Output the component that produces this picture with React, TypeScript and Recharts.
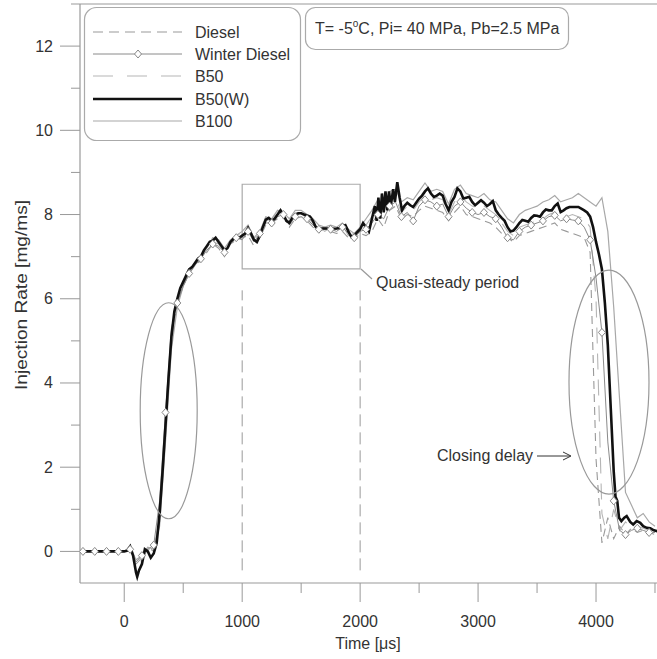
import React from 'react';
import { LineChart, Line, XAxis, YAxis, ReferenceLine, ReferenceArea, ReferenceDot } from 'recharts';

const FONT = '"Liberation Sans", Arial, Helvetica, sans-serif';
const TEXT = '#333';
const AXIS = '#999';

// Common time grid (µs) for the gray series
const GRID_TIME = [
  -375, -350, -300, -250, -200, -150, -100, -50, 0, 50,
  100, 150, 200, 250, 300, 350, 400, 450, 500, 550,
  600, 650, 700, 750, 800, 850, 900, 950, 1000, 1050,
  1100, 1150, 1200, 1250, 1300, 1350, 1400, 1450, 1500, 1550,
  1600, 1650, 1700, 1750, 1800, 1850, 1900, 1950, 2000, 2050,
  2100, 2150, 2200, 2250, 2300, 2350, 2400, 2450, 2500, 2550,
  2600, 2650, 2700, 2750, 2800, 2850, 2900, 2950, 3000, 3050,
  3100, 3150, 3200, 3250, 3300, 3350, 3400, 3450, 3500, 3550,
  3600, 3650, 3700, 3750, 3800, 3850, 3900, 3950, 4000, 4050,
  4100, 4150, 4200, 4250, 4300, 4350, 4400, 4450, 4500,
];

const DIESEL = [
  0, 0, 0, 0, 0, 0, 0, 0, 0, 0.05,
  -0.3, -0.15, 0.1, 0.0, 0.7, 2.8, 5.0, 5.9, 6.3, 6.6,
  6.8, 6.9, 7.1, 7.3, 7.2, 7.0, 7.3, 7.4, 7.45, 7.5,
  7.25, 7.45, 7.75, 7.8, 7.9, 7.95, 7.7, 7.9, 7.95, 7.85,
  7.7, 7.6, 7.65, 7.6, 7.55, 7.6, 7.45, 7.4, 7.55, 7.5,
  7.6, 7.9, 7.7, 8.1, 8.2, 7.9, 8.0, 7.95, 8.1, 8.2,
  8.15, 8.1, 8.05, 7.85, 8.05, 8.2, 8.0, 7.95, 7.9, 7.85,
  7.8, 7.7, 7.55, 7.45, 7.35, 7.5, 7.55, 7.6, 7.65, 7.7,
  7.75, 7.8, 7.65, 7.6, 7.55, 7.5, 7.45, 7.1, 2.2, 0.2,
  0.8, 0.3, 0.6, 0.4, 0.55, 0.45, 0.5, 0.45, 0.4,
];

const WINTER_DIESEL = [
  0, 0, 0, 0, 0, 0, 0, 0, 0, 0.05,
  -0.25, -0.1, 0.05, 0.15, 1.2, 3.3, 5.3, 5.9, 6.3, 6.6,
  6.8, 6.95, 7.15, 7.3, 7.25, 7.1, 7.3, 7.45, 7.4, 7.6,
  7.35, 7.55, 7.8, 7.8, 7.95, 8.0, 7.75, 7.95, 8.05, 7.9,
  7.75, 7.65, 7.7, 7.65, 7.6, 7.7, 7.55, 7.45, 7.6, 7.65,
  7.8, 8.0, 7.9, 8.2, 8.3, 7.95, 8.05, 7.85, 8.2, 8.35,
  8.3, 8.2, 8.25, 7.95, 8.2, 8.3, 8.15, 8.05, 8.0, 8.05,
  7.95, 7.9, 7.7, 7.45, 7.4, 7.6, 7.7, 7.75, 7.8, 7.85,
  7.95, 7.98, 7.85, 7.9, 7.87, 7.85, 7.7, 7.4, 6.5, 5.2,
  2.6, 1.2, 0.5, 0.4, 0.5, 0.55, 0.5, 0.45, 0.45,
];

const B50 = [
  0, 0, 0, 0, 0, 0, 0, 0, 0, 0.1,
  -0.35, -0.2, 0.05, 0.05, 0.8, 2.9, 5.0, 5.95, 6.35, 6.65,
  6.8, 6.95, 7.2, 7.35, 7.3, 7.1, 7.3, 7.5, 7.55, 7.6,
  7.45, 7.5, 7.85, 7.9, 8.05, 7.9, 7.85, 8.05, 8.0, 7.95,
  7.8, 7.7, 7.6, 7.7, 7.65, 7.75, 7.5, 7.55, 7.6, 7.75,
  7.95, 8.1, 8.15, 8.3, 8.4, 8.05, 8.2, 8.1, 8.3, 8.45,
  8.35, 8.4, 8.35, 8.0, 8.3, 8.45, 8.3, 8.2, 8.15, 8.2,
  8.1, 8.0, 7.8, 7.6, 7.5, 7.7, 7.75, 7.8, 7.85, 7.9,
  8.0, 8.05, 7.95, 7.95, 8.0, 7.95, 7.9, 7.7, 6.0, 0.9,
  0.3, 1.0, 0.5, 0.7, 0.55, 0.6, 0.55, 0.5, 0.5,
];

const B100 = [
  0, 0, 0, 0, 0, 0, 0, 0, 0, 0.1,
  -0.2, -0.1, 0.1, 0.05, 0.6, 2.6, 4.8, 5.8, 6.3, 6.6,
  6.8, 7.0, 7.2, 7.45, 7.4, 7.2, 7.4, 7.5, 7.6, 7.75,
  7.45, 7.6, 7.95, 7.9, 8.1, 8.05, 7.9, 8.1, 8.1, 8.0,
  7.9, 7.75, 7.7, 7.75, 7.7, 7.8, 7.65, 7.55, 7.7, 7.9,
  8.1, 8.35, 8.2, 8.55, 8.6, 8.3, 8.4, 8.35, 8.55, 8.75,
  8.55, 8.6, 8.55, 8.25, 8.6, 8.7, 8.5, 8.45, 8.4, 8.5,
  8.35, 8.3, 8.1, 7.9, 7.8, 8.0, 8.1, 8.15, 8.2, 8.3,
  8.35, 8.45, 8.3, 8.35, 8.4, 8.5, 8.4, 8.3, 8.2, 8.4,
  7.6, 5.8, 3.6, 1.4, 1.1, 0.8, 0.9, 0.7, 0.6,
];

// B50(W) is read at a finer resolution
const B50W_TIME = [
  -375, -300, -200, -100, 0, 25, 50, 75, 100, 110,
  125, 150, 175, 200, 225, 250, 275, 300, 325, 350,
  375, 400, 425, 450, 475, 500, 525, 550, 575, 600,
  625, 650, 675, 700, 725, 750, 775, 800, 825, 850,
  875, 900, 925, 950, 975, 1000, 1025, 1050, 1075, 1100,
  1125, 1150, 1175, 1200, 1225, 1250, 1275, 1300, 1325, 1350,
  1375, 1400, 1425, 1450, 1475, 1500, 1525, 1550, 1575, 1600,
  1625, 1650, 1700, 1750, 1800, 1825, 1850, 1875, 1900, 1925,
  1950, 1975, 2000, 2025, 2050, 2075, 2100, 2125, 2140, 2155,
  2170, 2185, 2200, 2215, 2230, 2245, 2260, 2280, 2295, 2315,
  2335, 2355, 2375, 2400, 2425, 2450, 2475, 2500, 2525, 2550,
  2575, 2600, 2625, 2650, 2675, 2700, 2725, 2750, 2775, 2800,
  2825, 2850, 2875, 2900, 2925, 2950, 2975, 3000, 3025, 3050,
  3075, 3100, 3125, 3150, 3175, 3200, 3225, 3250, 3275, 3300,
  3325, 3350, 3375, 3400, 3425, 3450, 3475, 3500, 3525, 3550,
  3575, 3600, 3625, 3650, 3675, 3700, 3725, 3750, 3775, 3800,
  3850, 3875, 3900, 3925, 3950, 3975, 4000, 4025, 4050, 4075,
  4100, 4125, 4150, 4165, 4180, 4195, 4215, 4240, 4260, 4290,
  4315, 4345, 4375, 4400, 4430, 4460, 4490, 4520,
];

const B50W = [
  0, 0, 0, 0, 0, 0.02, 0.12, -0.1, -0.5, -0.6,
  -0.45, -0.3, 0.05, 0, -0.15, -0.05, 0.2, 0.9, 1.9, 3.0,
  4.1, 5.1, 5.7, 6.0, 6.25, 6.4, 6.55, 6.7, 6.75, 6.85,
  6.95, 7.0, 7.15, 7.25, 7.35, 7.38, 7.45, 7.35, 7.25, 7.15,
  7.2, 7.35, 7.42, 7.45, 7.45, 7.5, 7.55, 7.68, 7.55, 7.4,
  7.35, 7.5, 7.7, 7.88, 7.92, 7.85, 7.9, 8.0, 8.1, 8.0,
  7.85, 7.8, 7.92, 8.0, 8.03, 8.03, 8.0, 7.98, 7.95, 7.85,
  7.7, 7.67, 7.67, 7.66, 7.67, 7.68, 7.72, 7.75, 7.6, 7.47,
  7.5, 7.58, 7.65, 7.8, 7.7, 7.6, 7.9, 8.2, 7.85, 8.4,
  7.9, 8.5, 8.05, 8.55, 8.1, 8.55, 8.2, 8.6, 8.3, 8.77,
  8.4, 8.1, 8.2, 8.28, 8.22, 8.18, 8.28, 8.38, 8.45, 8.55,
  8.62, 8.5, 8.42, 8.45, 8.5, 8.45, 8.25, 8.1, 8.3, 8.42,
  8.62, 8.55, 8.38, 8.4, 8.42, 8.3, 8.22, 8.28, 8.34, 8.28,
  8.2, 8.25, 8.32, 8.1, 8.0, 7.92, 7.85, 7.7, 7.6, 7.62,
  7.7, 7.8, 7.87, 7.85, 7.83, 7.92, 7.98, 7.97, 7.95, 8.05,
  8.12, 8.1, 8.1, 8.2, 8.26, 8.06, 8.1, 8.15, 8.18, 8.18,
  8.18, 8.14, 8.1, 8.05, 7.95, 7.7, 7.35, 7.05, 6.7, 5.9,
  4.9, 3.4, 1.9, 1.3, 1.2, 0.8, 0.72, 0.8, 0.84, 0.7,
  0.64, 0.72, 0.68, 0.6, 0.56, 0.55, 0.5, 0.48,
];

const X_TICKS = [0, 500, 1000, 1500, 2000, 2500, 3000, 3500, 4000, 4500];
const X_LABELED = [0, 1000, 2000, 3000, 4000];
const Y_TICKS = [0, 1, 2, 3, 4, 5, 6, 7, 8, 9, 10, 11, 12, 13];
const Y_LABELED = [0, 2, 4, 6, 8, 10, 12];

const LEGEND_NAMES = ['Diesel', 'Winter Diesel', 'B50', 'B50(W)', 'B100'];
const CONDITIONS_PREFIX = 'T= -5';
const CONDITIONS_SUFFIX = 'C, Pi= 40 MPa, Pb=2.5 MPa';

const toSeries = (times: number[], vals: number[]) => times.map((t, i) => ({ t, v: vals[i] }));

const dieselData = toSeries(GRID_TIME, DIESEL);
const winterData = toSeries(GRID_TIME, WINTER_DIESEL);
const b50Data = toSeries(GRID_TIME, B50);
const b100Data = toSeries(GRID_TIME, B100);
const b50wData = toSeries(B50W_TIME, B50W);

const YTick = (props: any) => {
  const { x, y, payload } = props;
  const v = payload.value;
  const major = Y_LABELED.includes(v);
  return (
    <g>
      <line x1={x - (major ? 20 : 9)} x2={x} y1={y} y2={y} stroke={AXIS} strokeWidth={1} />
      {major && (
        <text x={x - 27} y={y + 5.5} textAnchor="end" fontSize={16} fill={TEXT} fontFamily={FONT}>
          {v}
        </text>
      )}
    </g>
  );
};

const XTick = (props: any) => {
  const { x, y, payload } = props;
  const v = payload.value;
  const major = X_LABELED.includes(v);
  return (
    <g>
      <line x1={x} x2={x} y1={y} y2={y + (major ? 19 : 10)} stroke={AXIS} strokeWidth={1} />
      {major && (
        <text x={x} y={y + 44} textAnchor="middle" fontSize={16} fill={TEXT} fontFamily={FONT}>
          {v}
        </text>
      )}
    </g>
  );
};

const diamondDot = (props: any) => {
  const { cx, cy, index } = props;
  if (index % 2 !== 1 || cx == null || cy == null) return <g key={`wd-${index}`} />;
  return (
    <path
      key={`wd-${index}`}
      d={`M${cx},${cy - 4} L${cx + 3.5},${cy} L${cx},${cy + 4} L${cx - 3.5},${cy} Z`}
      fill="#fff"
      stroke="#888"
      strokeWidth={1}
    />
  );
};

const ellipseShape = (rx: number, ry: number) => (p: any) => (
  <ellipse cx={p.cx} cy={p.cy} rx={rx} ry={ry} fill="none" stroke="#999" strokeWidth={1.2} />
);

export default function App() {
  const legendY = [32, 54, 76, 99, 121];
  return (
    <div style={{ position: 'absolute', left: 0, top: 0, width: 657, height: 659, background: '#fff' }}>
      <LineChart width={657} height={659} margin={{ top: 4, right: 0, bottom: 0, left: 0 }}>
        <XAxis
          dataKey="t"
          type="number"
          domain={[-375, 4517]}
          allowDataOverflow
          ticks={X_TICKS}
          interval={0}
          tickSize={0}
          tickMargin={0}
          tickLine={false}
          axisLine={{ stroke: AXIS, strokeWidth: 1.2 }}
          height={76}
          tick={(p: any) => <XTick {...p} />}
        />
        <YAxis
          type="number"
          domain={[-0.75, 13]}
          allowDataOverflow
          ticks={Y_TICKS}
          interval={0}
          tickSize={0}
          tickMargin={0}
          tickLine={false}
          axisLine={{ stroke: AXIS, strokeWidth: 1.2 }}
          width={80}
          tick={(p: any) => <YTick {...p} />}
        />
        <ReferenceLine y={13} stroke={AXIS} strokeWidth={1.2} />
        <ReferenceLine
          segment={[{ x: 1000, y: -0.45 }, { x: 1000, y: 6.2 }]}
          stroke="#999"
          strokeDasharray="12 6"
        />
        <ReferenceLine
          segment={[{ x: 2000, y: -0.45 }, { x: 2000, y: 6.2 }]}
          stroke="#999"
          strokeDasharray="12 6"
        />
        <ReferenceArea x1={1000} x2={2000} y1={6.71} y2={8.72} fill="none" fillOpacity={0} stroke="#aaa" strokeWidth={1.2} />
        <Line data={dieselData} dataKey="v" name="Diesel" stroke="#999" strokeWidth={1.1} strokeDasharray="8 5" dot={false} isAnimationActive={false} />
        <Line data={b50Data} dataKey="v" name="B50" stroke="#b5b5b5" strokeWidth={1.1} strokeDasharray="16 10" dot={false} isAnimationActive={false} />
        <Line data={b100Data} dataKey="v" name="B100" stroke="#a8a8a8" strokeWidth={1.2} dot={false} isAnimationActive={false} />
        <Line data={winterData} dataKey="v" name="Winter Diesel" stroke="#8a8a8a" strokeWidth={1} dot={diamondDot} isAnimationActive={false} />
        <Line data={b50wData} dataKey="v" name="B50(W)" stroke="#111" strokeWidth={2.6} dot={false} isAnimationActive={false} />
        <ReferenceDot x={377} y={3.34} r={1} shape={ellipseShape(28.5, 108)} />
        <ReferenceDot x={4110} y={4.02} r={1} shape={ellipseShape(40, 112)} />
      </LineChart>

      <svg
        width={657}
        height={659}
        style={{ position: 'absolute', left: 0, top: 0, pointerEvents: 'none' }}
        fontFamily={FONT}
      >
        {/* Legend */}
        <rect x={84.5} y={7.5} width={216} height={133} rx={12} ry={12} fill="#fff" stroke="#aaa" strokeWidth={1.2} />
        <line x1={93} x2={182} y1={legendY[0]} y2={legendY[0]} stroke="#999" strokeWidth={1.1} strokeDasharray="10 6" />
        <line x1={93} x2={182} y1={legendY[1]} y2={legendY[1]} stroke="#8a8a8a" strokeWidth={1} />
        <path d={`M138,${legendY[1] - 4} L141.5,${legendY[1]} L138,${legendY[1] + 4} L134.5,${legendY[1]} Z`} fill="#fff" stroke="#888" />
        <line x1={93} x2={182} y1={legendY[2]} y2={legendY[2]} stroke="#b5b5b5" strokeWidth={1.1} strokeDasharray="20 14" />
        <line x1={93} x2={182} y1={legendY[3]} y2={legendY[3]} stroke="#111" strokeWidth={2.6} />
        <line x1={93} x2={182} y1={legendY[4]} y2={legendY[4]} stroke="#a8a8a8" strokeWidth={1.2} />
        {LEGEND_NAMES.map((n, i) => (
          <text key={n} x={195} y={legendY[i] + 6} fontSize={16} fill={TEXT}>
            {n}
          </text>
        ))}

        {/* Conditions box */}
        <rect x={305.5} y={7.5} width={263} height={42} rx={10} ry={10} fill="#fff" stroke="#aaa" strokeWidth={1.2} />
        <text x={315} y={34} fontSize={16} fill={TEXT}>
          {CONDITIONS_PREFIX}
          <tspan fontSize={10} dy={-7}>o</tspan>
          <tspan dy={7}>{CONDITIONS_SUFFIX}</tspan>
        </text>

        {/* Quasi-steady annotation */}
        <line x1={361} y1={269} x2={372} y2={279} stroke="#999" strokeWidth={1.2} />
        <text x={376} y={288} fontSize={16} fill={TEXT}>Quasi-steady period</text>

        {/* Closing delay annotation */}
        <text x={437} y={461} fontSize={16} fill={TEXT}>Closing delay</text>
        <line x1={537} y1={456} x2={570} y2={456} stroke="#333" strokeWidth={1} />
        <path d="M563,452 L571,456 L563,460" fill="none" stroke="#333" strokeWidth={1} />

        {/* Axis titles */}
        <text
          transform="rotate(-90)"
          x={-295}
          y={27}
          textAnchor="middle"
          fontSize={16}
          fill={TEXT}
          textLength={190}
          lengthAdjust="spacingAndGlyphs"
        >
          Injection Rate [mg/ms]
        </text>
        <text x={368} y={649} textAnchor="middle" fontSize={16} fill={TEXT}>
          Time [μs]
        </text>
      </svg>
    </div>
  );
}
